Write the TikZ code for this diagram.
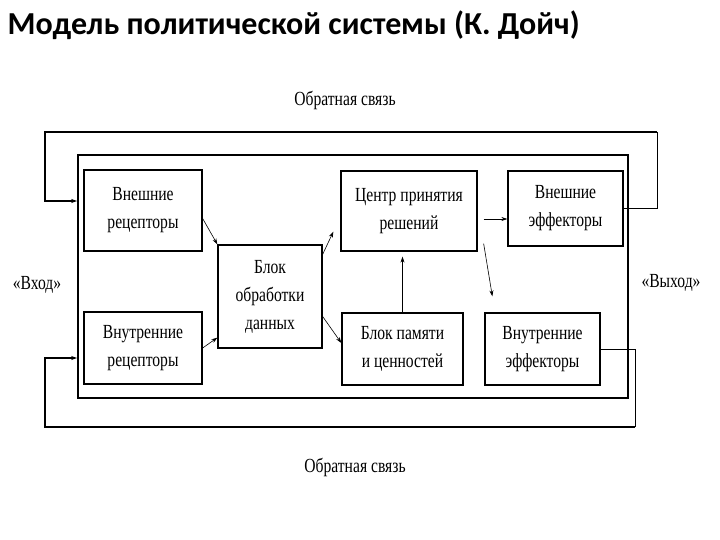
\documentclass[tikz,border=0pt]{standalone}
\usepackage{fontspec}
\setmainfont{Liberation Serif}
\newfontfamily\titlefont{Carlito}
\newfontfamily\narrowfont[FakeStretch=0.78]{Liberation Serif}
\usetikzlibrary{arrows.meta,positioning,calc}

\begin{document}
\begin{tikzpicture}[x=1pt, y=-1pt,
  font=\narrowfont\fontsize{20}{28}\selectfont,
  blk/.style={draw, line width=1.3pt, align=center, inner sep=0pt},
  frm/.style={draw, line width=1.6pt, inner sep=0pt},
  lnk/.style={line width=0.6pt, -{Stealth[length=6pt,width=4pt]}},
  fb/.style={line width=1.6pt},
  fbthin/.style={line width=0.7pt}]
\useasboundingbox (0,0) rectangle (720,540);
% ---------------- title ----------------
\node[anchor=west, font=\titlefont\bfseries\fontsize{32}{34}\selectfont] (title) at (4,25)
  {Модель политической системы (К. Дойч)};
% ---------------- system frame and blocks ----------------
\node[frm, minimum width=550, minimum height=243] (frame) at (353,276.5) {};
\node[blk, minimum width=118, minimum height=81] (extrec) at (143,210.5) {Внешние\\рецепторы};
\node[blk, minimum width=118, minimum height=72] (intrec) at (143,348) {Внутренние\\рецепторы};
\node[blk, minimum width=104, minimum height=103] (blok) at (270,296.5) {Блок\\обработки\\данных};
\node[blk, minimum width=136, minimum height=80] (centr) at (409,211) {Центр принятия\\решений};
\node[blk, minimum width=115, minimum height=75] (exteff) at (565.5,208.5) {Внешние\\эффекторы};
\node[blk, minimum width=121, minimum height=72] (pamyat) at (402.5,349) {Блок памяти\\и ценностей};
\node[blk, minimum width=115, minimum height=72] (inteff) at (542.5,349) {Внутренние\\эффекторы};
% ---------------- labels ----------------
\node (fbtop) at (345,100) {Обратная связь};
\node (fbbot) at (355,467) {Обратная связь};
\node (vhod) at (37,285) {«Вход»};
\node (vyhod) at (671,283) {«Выход»};
% ---------------- links inside ----------------
\draw[lnk] ([yshift=-8pt]extrec.east) -- (blok.north west);
\draw[lnk] (intrec.east) -- ([yshift=11pt]blok.south west);
\draw[lnk] ([yshift=-10pt]blok.north east) -- ([xshift=-7pt,yshift=20pt]centr.south west);
\draw[lnk] ([yshift=-20pt]blok.east) -- ([yshift=6pt]pamyat.west);
\draw[lnk, shorten >=5pt] (pamyat.north) -- (pamyat.north |- centr.south);
\draw[lnk] ([xshift=6pt,yshift=-8pt]centr.east) -- ([yshift=-10.5pt]exteff.west);
\draw[lnk] ([xshift=6pt,yshift=8pt]centr.south east) -- ([xshift=8pt,yshift=16pt]inteff.north west);
% ---------------- feedback loops ----------------
\coordinate (inA) at (frame.west |- 0,201);
\coordinate (inB) at (frame.west |- 0,358);
\draw[fbthin] (exteff.east) -| (657,132);
\draw[fb, -{Stealth[length=6pt,width=4pt]}] (657,132) -| (45,201) -- (inA);
\draw[fbthin] (inteff.east) -| (635,427);
\draw[fb, -{Stealth[length=6pt,width=4pt]}] (635,427) -| (45,358) -- (inB);
\end{tikzpicture}
\end{document}
